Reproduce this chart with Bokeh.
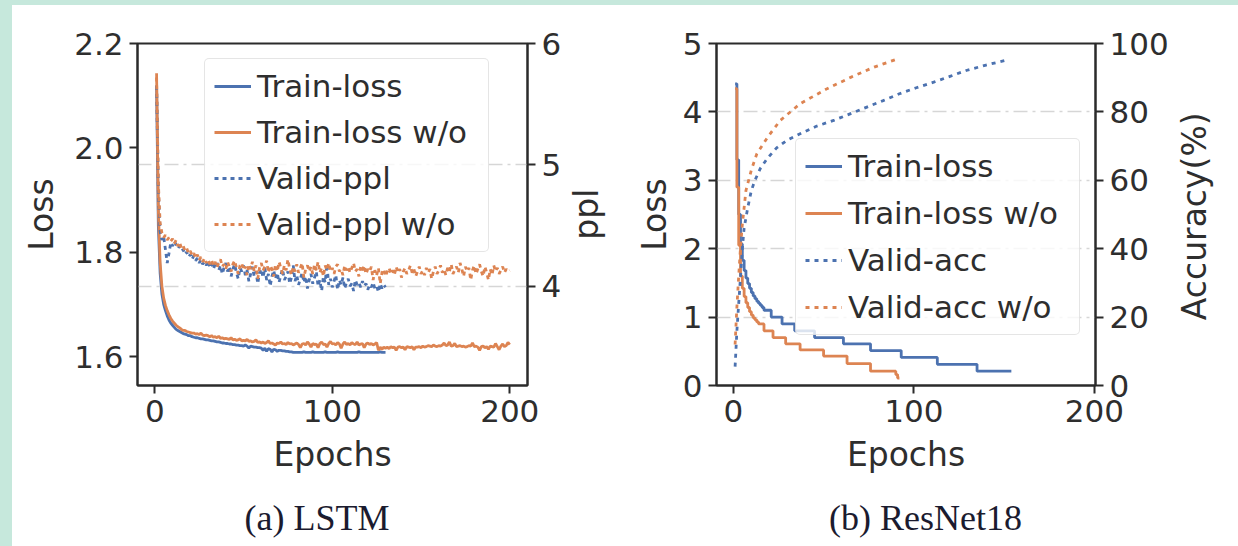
from math import pi
from bokeh.plotting import figure
from bokeh.models import (Range1d, LinearAxis, FixedTicker, Grid, Legend, LegendItem,
                          PrintfTickFormatter, GlobalInlineStyleSheet)
from bokeh.core.properties import value
from bokeh.layouts import row, column
from bokeh.embed import file_html
from bokeh.resources import INLINE

# ---------------- data: (a) LSTM ----------------
lstm_train_loss = [
    2.120, 1.850, 1.760, 1.720, 1.700, 1.688, 1.678, 1.670, 1.664, 1.660,
    1.656, 1.652, 1.650, 1.648, 1.646, 1.644, 1.643, 1.642, 1.640, 1.640,
    1.638, 1.637, 1.636, 1.636, 1.635, 1.634, 1.634, 1.633, 1.632, 1.632,
    1.631, 1.630, 1.630, 1.629, 1.628, 1.628, 1.627, 1.626, 1.626, 1.625,
    1.625, 1.624, 1.624, 1.623, 1.623, 1.622, 1.622, 1.621, 1.621, 1.620,
    1.622, 1.620, 1.616, 1.620, 1.619, 1.618, 1.618, 1.617, 1.617, 1.616,
    1.612, 1.616, 1.610, 1.615, 1.614, 1.609, 1.614, 1.613, 1.610, 1.612,
    1.612, 1.611, 1.611, 1.610, 1.610, 1.609, 1.609, 1.608, 1.608, 1.608,
    1.608, 1.608, 1.608, 1.609, 1.608, 1.608, 1.608, 1.608, 1.609, 1.608,
    1.608, 1.608, 1.608, 1.608, 1.608, 1.609, 1.608, 1.608, 1.608, 1.608,
    1.608, 1.608, 1.609, 1.608, 1.608, 1.608, 1.608, 1.608, 1.608, 1.608,
    1.608, 1.608, 1.608, 1.608, 1.609, 1.608, 1.608, 1.608, 1.608, 1.608,
    1.608, 1.608, 1.608, 1.608, 1.608, 1.608, 1.609, 1.608, 1.608, 1.608,
]
lstm_train_loss_wo = [
    2.143, 1.880, 1.780, 1.735, 1.712, 1.698, 1.688, 1.680, 1.673, 1.668,
    1.664, 1.660, 1.657, 1.655, 1.652, 1.650, 1.650, 1.648, 1.647, 1.646,
    1.645, 1.645, 1.643, 1.644, 1.642, 1.645, 1.641, 1.640, 1.641, 1.640,
    1.638, 1.640, 1.637, 1.638, 1.636, 1.639, 1.635, 1.636, 1.634, 1.635,
    1.634, 1.633, 1.636, 1.632, 1.633, 1.631, 1.632, 1.634, 1.630, 1.631,
    1.630, 1.633, 1.629, 1.630, 1.628, 1.629, 1.632, 1.627, 1.628, 1.626,
    1.628, 1.625, 1.627, 1.630, 1.625, 1.626, 1.624, 1.622, 1.626, 1.625,
    1.628, 1.624, 1.625, 1.623, 1.627, 1.624, 1.625, 1.622, 1.624, 1.626,
    1.623, 1.617, 1.624, 1.625, 1.622, 1.628, 1.624, 1.618, 1.625, 1.623,
    1.624, 1.617, 1.625, 1.628, 1.623, 1.624, 1.618, 1.625, 1.629, 1.624,
    1.625, 1.622, 1.627, 1.624, 1.616, 1.624, 1.628, 1.623, 1.625, 1.622,
    1.627, 1.624, 1.623, 1.628, 1.622, 1.624, 1.625, 1.617, 1.624, 1.626,
    1.623, 1.625, 1.622, 1.624, 1.627, 1.612, 1.618, 1.614, 1.618, 1.616,
    1.618, 1.615, 1.619, 1.617, 1.618, 1.612, 1.618, 1.619, 1.617, 1.618,
    1.613, 1.619, 1.618, 1.617, 1.619, 1.613, 1.618, 1.618, 1.619, 1.617,
    1.620, 1.618, 1.619, 1.621, 1.620, 1.619, 1.622, 1.620, 1.619, 1.621,
    1.620, 1.622, 1.626, 1.621, 1.622, 1.628, 1.620, 1.621, 1.625, 1.619,
    1.620, 1.621, 1.619, 1.620, 1.618, 1.619, 1.621, 1.620, 1.626, 1.619,
    1.620, 1.618, 1.612, 1.619, 1.620, 1.617, 1.619, 1.614, 1.620, 1.619,
    1.618, 1.625, 1.619, 1.613, 1.620, 1.624, 1.619, 1.621, 1.627, 1.623,
]
lstm_valid_ppl = [
    5.65, 4.78, 4.45, 4.38, 4.41, 4.30, 4.19, 4.27, 4.36, 4.33,
    4.37, 4.34, 4.31, 4.33, 4.29, 4.30, 4.26, 4.28, 4.24, 4.26,
    4.22, 4.25, 4.21, 4.23, 4.19, 4.22, 4.18, 4.20, 4.17, 4.21,
    4.16, 4.19, 4.14, 4.18, 4.20, 4.13, 4.17, 4.10, 4.15, 4.19,
    4.12, 4.16, 4.08, 4.14, 4.18, 4.11, 4.06, 4.15, 4.12, 4.17,
    4.09, 4.13, 4.04, 4.10, 4.16, 4.08, 4.12, 4.02, 4.11, 4.14,
    4.07, 4.15, 4.05, 4.10, 4.00, 4.08, 4.13, 4.06, 4.11, 4.03,
    4.09, 4.14, 4.05, 4.08, 4.12, 4.02, 4.07, 4.17, 4.04, 4.09,
    4.01, 4.06, 4.11, 4.03, 4.08, 3.98, 4.05, 4.10, 4.02, 4.07,
    4.12, 4.00, 4.05, 3.96, 4.08, 4.03, 4.18, 4.01, 4.06, 3.99,
    4.04, 4.09, 3.97, 4.05, 4.01, 4.07, 3.98, 4.03, 4.06, 4.00,
    4.02, 3.96, 4.05, 4.01, 4.03, 3.99, 4.04, 4.00, 4.02, 3.97,
    4.01, 3.99, 4.03, 3.98, 4.00, 3.95, 4.02, 3.98, 4.01, 3.99,
]
lstm_valid_ppl_wo = [
    5.72, 4.85, 4.52, 4.44, 4.40, 4.42, 4.38, 4.40, 4.37, 4.39,
    4.35, 4.38, 4.33, 4.36, 4.31, 4.33, 4.29, 4.31, 4.27, 4.29,
    4.25, 4.27, 4.23, 4.26, 4.21, 4.24, 4.20, 4.23, 4.19, 4.22,
    4.18, 4.21, 4.17, 4.20, 4.15, 4.19, 4.22, 4.16, 4.18, 4.14,
    4.20, 4.16, 4.12, 4.18, 4.21, 4.15, 4.10, 4.17, 4.19, 4.13,
    4.16, 4.09, 4.18, 4.14, 4.20, 4.12, 4.17, 4.06, 4.15, 4.19,
    4.13, 4.16, 4.21, 4.11, 4.17, 4.14, 4.08, 4.18, 4.12, 4.20,
    4.15, 4.10, 4.17, 4.13, 4.22, 4.14, 4.09, 4.16, 4.12, 4.18,
    4.11, 4.15, 4.19, 4.07, 4.14, 4.17, 4.12, 4.16, 4.10, 4.18,
    4.13, 4.20, 4.11, 4.15, 4.08, 4.17, 4.13, 4.19, 4.12, 4.15,
    4.10, 4.16, 4.18, 4.12, 4.14, 4.09, 4.17, 4.13, 4.16, 4.11,
    4.15, 4.19, 4.12, 4.14, 4.08, 4.16, 4.13, 4.17, 4.10, 4.14,
    4.12, 4.16, 4.05, 4.13, 4.09, 4.15, 4.02, 4.11, 4.14, 4.08,
    4.12, 4.15, 4.10, 4.13, 4.09, 4.16, 4.11, 4.14, 4.07, 4.12,
    4.15, 4.10, 4.13, 4.17, 4.11, 4.14, 4.08, 4.12, 4.16, 4.10,
    4.13, 4.09, 4.15, 4.11, 4.14, 4.06, 4.12, 4.16, 4.10, 4.13,
    4.17, 4.11, 4.14, 4.09, 4.15, 4.12, 4.18, 4.10, 4.13, 4.16,
    4.11, 4.19, 4.14, 4.08, 4.16, 4.12, 4.15, 4.05, 4.13, 4.17,
    4.10, 4.14, 4.18, 4.12, 4.08, 4.16, 4.11, 4.05, 4.14, 4.09,
    4.17, 4.12, 4.15, 4.10, 4.13, 4.16, 4.11, 4.14, 4.12, 4.13,
]

# ---------------- data: (b) ResNet18 ----------------
res_loss_epochs = [1, 2, 3, 4, 5, 6, 7, 8, 9, 10, 11, 12, 13, 14, 15, 16, 17, 21, 27, 34, 45, 61, 76, 93, 113, 135, 154]
res_loss = [4.41, 3.30, 2.50, 2.07, 1.83, 1.68, 1.57, 1.49, 1.42, 1.36, 1.31, 1.27, 1.23, 1.20, 1.17, 1.14,
            1.10, 1.00, 0.90, 0.80, 0.70, 0.61, 0.51, 0.41, 0.31, 0.21, 0.21]
res_loss_wo_epochs = [1, 2, 3, 4, 5, 6, 7, 8, 9, 10, 11, 12, 13, 14, 17, 22, 29, 37, 50, 63, 76, 90, 91, 92]
res_loss_wo = [4.34, 2.90, 2.05, 1.60, 1.42, 1.30, 1.21, 1.14, 1.08, 1.03, 0.99, 0.96, 0.93, 0.90,
               0.80, 0.70, 0.61, 0.52, 0.43, 0.32, 0.21, 0.16, 0.11, 0.11]
res_acc_epochs = [1, 2, 3, 4, 5, 6, 8, 10, 12, 15, 19, 24, 30, 37, 46, 56, 65, 74, 83, 92, 101, 111, 120, 129, 140, 152]
res_acc = [5.5, 16.0, 24.0, 31.7, 40.0, 46.0, 52.0, 57.0, 60.0, 63.5, 66.5, 69.5, 71.8, 73.6, 75.8, 77.6,
           79.5, 81.4, 83.3, 85.3, 87.0, 88.7, 90.4, 92.1, 93.7, 95.2]
res_acc_wo_epochs = [1, 2, 3, 4, 5, 7, 10, 13, 19, 26, 37, 52, 65, 78, 91]
res_acc_wo = [12.0, 23.0, 32.0, 40.4, 47.0, 57.0, 63.0, 67.7, 72.6, 77.5, 82.4, 86.8, 90.1, 93.1, 95.5]

# tick labels / texts
lstm_x_ticks = [0, 100, 200]
lstm_loss_ticks = [1.6, 1.8, 2.0, 2.2]
lstm_ppl_ticks = [4, 5, 6]
res_x_ticks = [0, 100, 200]
res_loss_ticks = [0, 1, 2, 3, 4, 5]
res_acc_ticks = [0, 20, 40, 60, 80, 100]
captions = ["(a) LSTM", "(b) ResNet18"]
right_titles = ["ppl", "Accuracy(%)"]

BLUE = "#4c72b0"
ORANGE = "#dd8452"
TXT = "#2e2e2e"
AX = "#2b2b2b"
GRID = "#d6d6d6"
FONT = "DejaVu Sans"
SERIF = "Liberation Serif"
MINT = "#c6e8dc"
MAIN_H = 489


def style_axis(ax, ticks, label_standoff, axis_label_standoff=4, fmt=None):
    ax.ticker = FixedTicker(ticks=ticks)
    ax.axis_line_color = AX
    ax.axis_line_width = 2
    ax.major_tick_line_color = AX
    ax.major_tick_line_width = 2
    ax.major_tick_out = 8
    ax.major_tick_in = 0
    ax.minor_tick_line_color = None
    ax.major_label_text_font = FONT
    ax.major_label_text_font_size = "31px"
    ax.major_label_text_color = TXT
    ax.major_label_standoff = label_standoff
    ax.axis_label_text_font = FONT
    ax.axis_label_text_font_size = "33px"
    ax.axis_label_text_font_style = "normal"
    ax.axis_label_text_color = TXT
    ax.axis_label_standoff = axis_label_standoff
    if fmt:
        ax.formatter = PrintfTickFormatter(format=fmt)


def base_fig(width, xr, yr, bl, br):
    p = figure(width=width, height=MAIN_H, x_range=xr, y_range=yr,
               output_backend="svg", toolbar_location=None,
               min_border_left=bl, min_border_right=br, min_border_top=35,
               min_border_bottom=MAIN_H - 35 - 342)
    p.outline_line_color = AX
    p.outline_line_width = 2
    p.xgrid.visible = False
    p.ygrid.visible = False
    p.background_fill_color = "white"
    p.border_fill_color = "white"
    return p


def text_fig(width, height, x, y, text, font, size, angle=0.0, color=TXT):
    f = figure(width=width, height=height, x_range=Range1d(0, width), y_range=Range1d(0, height),
               output_backend="svg", toolbar_location=None, min_border=0,
               x_axis_location=None, y_axis_location=None)
    f.grid.visible = False
    f.outline_line_color = None
    f.background_fill_color = "white"
    f.border_fill_color = "white"
    f.text(x=[x], y=[y], text=[text], angle=angle, text_align="center", text_baseline="middle",
           text_font=value(font), text_font_size=size, text_color=color)
    return f


def make_legend(p, items, loc, spacing):
    lg = Legend(items=items, location=loc)
    lg.label_text_font = FONT
    lg.label_text_font_size = "31px"
    lg.label_text_color = TXT
    lg.glyph_width = 37
    lg.glyph_height = 36
    lg.label_height = 36
    lg.label_width = 222
    lg.label_standoff = 6
    lg.spacing = spacing
    lg.padding = 9
    lg.margin = 0
    lg.border_line_color = "#cccccc"
    lg.border_line_width = 1.5
    lg.background_fill_color = "white"
    lg.background_fill_alpha = 0.8
    try:
        lg.border_radius = 5
    except Exception:
        pass
    p.add_layout(lg)


# ================= (a) LSTM =================
p1 = base_fig(554, Range1d(-9.75, 210.0), Range1d(1.5445, 2.2), 125, 39)
p1.extra_y_ranges = {"ppl": Range1d(3.18, 6.0)}
style_axis(p1.xaxis[0], lstm_x_ticks, 6, 10)
p1.xaxis[0].axis_label = "Epochs"
style_axis(p1.yaxis[0], lstm_loss_ticks, 6, 10, fmt="%.1f")
p1.yaxis[0].axis_label = "Loss"
ax1r = LinearAxis(y_range_name="ppl")
style_axis(ax1r, lstm_ppl_ticks, 6)
p1.add_layout(ax1r, "right")
p1.add_layout(Grid(dimension=1, ticker=FixedTicker(ticks=lstm_ppl_ticks), y_range_name="ppl",
                   grid_line_color=GRID, grid_line_width=1.5, grid_line_dash="14 5 3 5"))

ep_a = list(range(1, len(lstm_train_loss) + 1))
ep_a_wo = list(range(1, len(lstm_train_loss_wo) + 1))
ep_v = list(range(1, len(lstm_valid_ppl) + 1))
ep_v_wo = list(range(1, len(lstm_valid_ppl_wo) + 1))
r1 = p1.line(ep_a, lstm_train_loss, line_color=BLUE, line_width=2.8)
r2 = p1.line(ep_a_wo, lstm_train_loss_wo, line_color=ORANGE, line_width=2.8)
r3 = p1.line(ep_v, lstm_valid_ppl, line_color=BLUE, line_width=2.8, line_dash="4 4", y_range_name="ppl")
r4 = p1.line(ep_v_wo, lstm_valid_ppl_wo, line_color=ORANGE, line_width=2.8, line_dash="4 4", y_range_name="ppl")
make_legend(p1, [LegendItem(label="Train-loss", renderers=[r1]),
                 LegendItem(label="Train-loss w/o", renderers=[r2]),
                 LegendItem(label="Valid-ppl", renderers=[r3]),
                 LegendItem(label="Valid-ppl w/o", renderers=[r4])], (67, 133), 10)
lab1 = text_fig(54, MAIN_H, 20, MAIN_H - 244, right_titles[0], FONT, "33px", angle=pi / 2)

# ================= (b) ResNet18 =================
p2 = base_fig(552, Range1d(-9.3, 200.6), Range1d(0, 5), 96, 77)
p2.extra_y_ranges = {"acc": Range1d(0, 100)}
style_axis(p2.xaxis[0], res_x_ticks, 6, 10)
p2.xaxis[0].axis_label = "Epochs"
style_axis(p2.yaxis[0], res_loss_ticks, 6, 6)
p2.yaxis[0].axis_label = "Loss"
ax2r = LinearAxis(y_range_name="acc")
style_axis(ax2r, res_acc_ticks, 6)
p2.add_layout(ax2r, "right")
p2.add_layout(Grid(dimension=1, ticker=FixedTicker(ticks=res_acc_ticks), y_range_name="acc",
                   grid_line_color=GRID, grid_line_width=1.5, grid_line_dash="14 5 3 5"))

s1 = p2.step(res_loss_epochs, res_loss, line_color=BLUE, line_width=2.8, mode="after")
s2 = p2.step(res_loss_wo_epochs, res_loss_wo, line_color=ORANGE, line_width=2.8, mode="after")
s3 = p2.line(res_acc_epochs, res_acc, line_color=BLUE, line_width=2.8, line_dash="4 5", y_range_name="acc")
s4 = p2.line(res_acc_wo_epochs, res_acc_wo, line_color=ORANGE, line_width=2.8, line_dash="4 5", y_range_name="acc")
make_legend(p2, [LegendItem(label="Train-loss", renderers=[s1]),
                 LegendItem(label="Train-loss w/o", renderers=[s2]),
                 LegendItem(label="Valid-acc", renderers=[s3]),
                 LegendItem(label="Valid-acc w/o", renderers=[s4])], (79, 50), 11)
lab2 = text_fig(54, MAIN_H, 22, MAIN_H - 247, right_titles[1], FONT, "33px", angle=pi / 2)

# ================= captions =================
cap1 = text_fig(608, 41, 304.5, 21, captions[0], SERIF, "36px", color="#1b1b2f")
cap2 = text_fig(606, 41, 305, 21, captions[1], SERIF, "36px", color="#1b1b2f")

css = GlobalInlineStyleSheet(css=(
    "html{background:#ffffff;}"
    "body{margin:0;padding:3px 0 0 0;border-top:5px solid %s;border-left:12px solid %s;"
    "min-height:100vh;box-sizing:border-box;background:#ffffff;overflow:hidden;}" % (MINT, MINT)))

layout = column(row(p1, lab1, p2, lab2), row(cap1, cap2), stylesheets=[css])
open("out.html", "w").write(file_html(layout, INLINE))
